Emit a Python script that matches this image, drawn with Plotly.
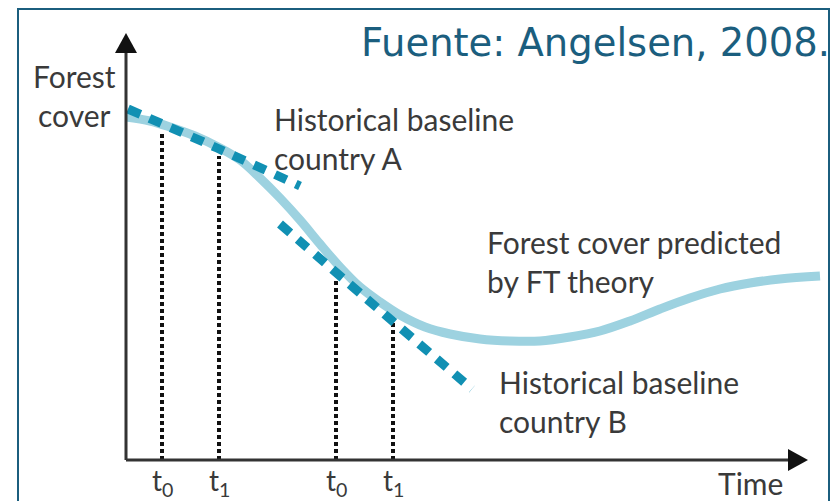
import plotly.graph_objects as go

# units: 1 unit = 1 px, origin at the axes corner
FT_TIME = [0, 24, 44, 69, 94, 114, 134, 154, 174, 194, 214, 234, 254, 274, 299,
           324, 354, 384, 414, 444, 474, 504, 534, 564, 594, 624, 654, 694]
FT_COVER = [343, 339, 333, 324, 312, 300, 282, 262, 240, 216, 193, 173, 158, 145, 133,
            126, 121, 119, 119, 123, 129, 139, 151, 162, 171, 177, 181, 184]

A_TIME = [2, 91, 174]
A_COVER = [351, 312, 274]

B_TIME = [154, 242, 346]
B_COVER = [236, 160, 71]

MARK_TIME = [36, 93, 210, 267]
MARK_TOP = [327, 304, 180, 140]
MARK_LABELS = ["t<sub>0</sub>", "t<sub>1</sub>", "t<sub>0</sub>", "t<sub>1</sub>"]

TEXT = "#3a3a3a"
FRAME = "#1b5e7e"
CURVE = "#9dd2e0"
DOTS = "#1190b3"
FONT = "Lato, Arial, sans-serif"

fig = go.Figure()

# vertical dotted markers
for t, top in zip(MARK_TIME, MARK_TOP):
    fig.add_trace(go.Scatter(
        x=[t, t], y=[0, top], mode="lines",
        line=dict(color="#111111", width=4, dash="4px,3px"),
        hoverinfo="skip",
    ))

fig.add_trace(go.Scatter(
    x=FT_TIME, y=FT_COVER, mode="lines", line_shape="spline",
    line=dict(color=CURVE, width=9), name="FT theory",
))
fig.add_trace(go.Scatter(
    x=A_TIME, y=A_COVER, mode="lines", line_shape="spline",
    line=dict(color=DOTS, width=9, dash="13px,10px"), name="Country A",
))
fig.add_trace(go.Scatter(
    x=B_TIME, y=B_COVER, mode="lines", line_shape="spline",
    line=dict(color=DOTS, width=9, dash="13px,10px"), name="Country B",
))

# axes with arrowheads
fig.add_shape(type="line", x0=0, y0=0, x1=0, y1=410, line=dict(color="#333333", width=3))
fig.add_shape(type="line", x0=0, y0=0, x1=665, y1=0, line=dict(color="#333333", width=3))
fig.add_shape(type="path", path="M -11,407 L 11,407 L 0,427 Z",
              fillcolor="#111111", line=dict(width=0))
fig.add_shape(type="path", path="M 662,11 L 662,-11 L 682,0 Z",
              fillcolor="#111111", line=dict(width=0))

# outer frame
fig.add_shape(type="rect", xref="paper", yref="paper",
              x0=18 / 836, x1=829 / 836, y0=-0.1, y1=1 - 9 / 501,
              line=dict(color=FRAME, width=2))

labels = [
    (-52, 365, "Forest<br>cover", "center"),
    (146, 322, "Historical baseline<br>country A", "left"),
    (359, 199, "Forest cover predicted<br>by FT theory", "left"),
    (371, 59, "Historical baseline<br>country B", "left"),
    (624, -23, "Time", "center"),
]
for x, y, txt, anchor in labels:
    fig.add_annotation(x=x, y=y, text=txt, showarrow=False, xanchor=anchor,
                       yanchor="middle", align=anchor,
                       font=dict(family=FONT, size=30, color=TEXT))

for t, lab in zip(MARK_TIME, MARK_LABELS):
    fig.add_annotation(x=t, y=-22, text=lab, showarrow=False, xanchor="center",
                       yanchor="middle", font=dict(family=FONT, size=28, color=TEXT))

fig.add_annotation(x=706, y=418, text="Fuente: Angelsen, 2008.", showarrow=False,
                   xanchor="right", yanchor="middle",
                   font=dict(family="DejaVu Sans, Verdana, sans-serif", size=38.5, color=FRAME))

fig.update_layout(
    width=836, height=501,
    margin=dict(l=0, r=0, t=0, b=0),
    paper_bgcolor="white", plot_bgcolor="white",
    showlegend=False,
    xaxis=dict(range=[-126, 710], visible=False, fixedrange=True),
    yaxis=dict(range=[-41, 460], visible=False, fixedrange=True),
)

fig.write_html("out.html", config={"displayModeBar": False},
               post_script="document.body.style.margin='0';document.body.style.overflow='hidden';")
